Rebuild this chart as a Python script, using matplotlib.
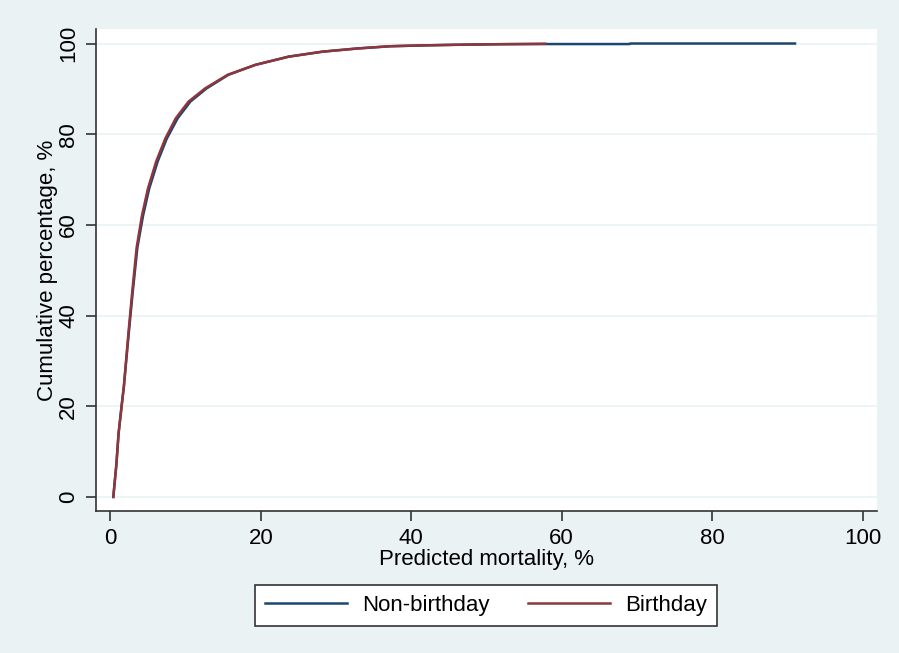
import matplotlib
matplotlib.use("Agg")
import matplotlib.pyplot as plt

bday_x = [0.4, 0.8, 1.1, 1.5, 1.8, 2.4, 2.9, 3.5, 4.2, 5.0, 6.1, 7.3, 8.7, 10.4, 12.6,
          15.6, 19.3, 23.7, 28.2, 32.8, 37.2, 42.0, 47.0, 52.0, 57.8]
bday_y = [0, 7, 14, 20, 24.3, 36, 45, 55, 62, 68, 74, 79, 83.5, 87.2, 90.1,
          93.1, 95.3, 97.1, 98.2, 98.9, 99.4, 99.6, 99.75, 99.85, 99.95]

nonbday_x = [0.4, 0.8, 1.1, 1.5, 1.8, 2.45, 2.97, 3.6, 4.35, 5.17, 6.3, 7.5, 8.95, 10.65, 12.8,
             15.7, 19.3, 23.7, 28.2, 32.8, 37.2, 42.0, 47.0, 52.0, 57.8, 69.0, 69.1, 91.0]
nonbday_y = [0, 7, 14, 20, 24.3, 36, 45, 55, 62, 68, 74, 79, 83.5, 87.2, 90.1,
             93.1, 95.3, 97.1, 98.2, 98.9, 99.4, 99.6, 99.75, 99.85, 99.88, 99.88, 100, 100]

xticks = [0, 20, 40, 60, 80, 100]
yticks = [0, 20, 40, 60, 80, 100]
series_labels = ["Non-birthday", "Birthday"]

plt.rcParams['font.family'] = ['Liberation Sans', 'DejaVu Sans']

BG = '#EAF2F3'
NAVY = '#1A476F'
MAROON = '#90353B'
AXC = '#333333'
FS = 16

fig = plt.figure(figsize=(8.99, 6.53), dpi=100, facecolor=BG)
ax = fig.add_axes([96/899, 1 - 511/653, (877-96)/899, (511-29)/653])
ax.set_facecolor('white')

ax.plot(nonbday_x, nonbday_y, color=NAVY, lw=1.8, label=series_labels[0], zorder=3)
ax.plot(bday_x, bday_y, color=MAROON, lw=1.8, label=series_labels[1], zorder=4)

ax.set_xlim(-1.9, 101.9)
ax.set_ylim(-3.1, 103.2)
ax.set_xticks(xticks)
ax.set_yticks(yticks)
ax.set_yticklabels([str(v) for v in yticks], rotation=90, va='center')
ax.grid(axis='y', color=BG, lw=1.2, zorder=1)
ax.grid(axis='x', visible=False)

for s in ['top', 'right']:
    ax.spines[s].set_visible(False)
for s in ['left', 'bottom']:
    ax.spines[s].set_color(AXC)
    ax.spines[s].set_linewidth(1.2)

ax.tick_params(axis='both', colors=AXC, labelcolor='black', length=7, width=1.2,
               labelsize=FS, pad=5)

ax.set_xlabel("Predicted mortality, %", fontsize=FS, labelpad=0)
ax.set_ylabel("Cumulative percentage, %", fontsize=FS, labelpad=0)

leg = fig.legend(loc='center', bbox_to_anchor=(486/899, 1 - 605/653), ncol=2,
                 fontsize=FS, frameon=True, fancybox=False, edgecolor=AXC,
                 framealpha=1, handlelength=3.7, handletextpad=0.68,
                 columnspacing=1.75, borderpad=0.45)
leg.get_frame().set_linewidth(1.2)

fig.savefig("out.png", dpi=100, facecolor=BG)
